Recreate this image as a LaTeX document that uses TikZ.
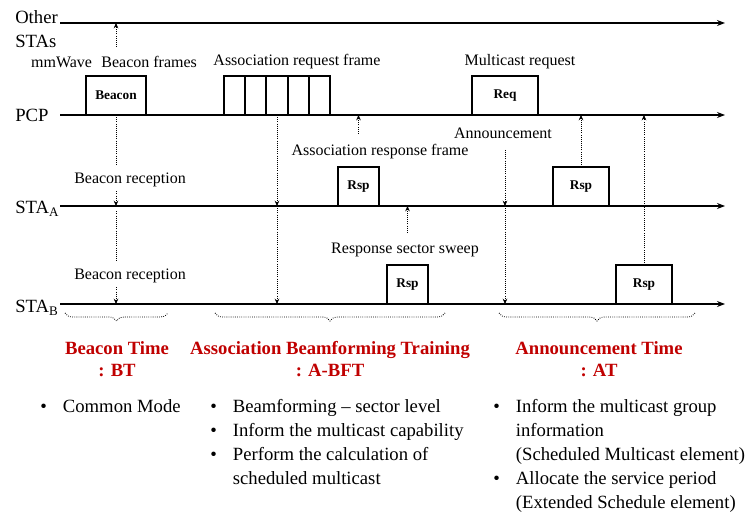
\documentclass[tikz,border=0pt]{standalone}
\usepackage{fontspec}
\setmainfont{Liberation Serif}
\usepackage{tikz}
\usetikzlibrary{arrows.meta, positioning, calc, decorations.pathreplacing}
\definecolor{phasered}{HTML}{C00000}
\newcommand{\bul}{\makebox[17pt][l]{\textbullet}}
\newcommand{\cont}{\hspace*{17pt}}

\begin{document}
\begin{tikzpicture}[x=0.75pt, y=-0.75pt, font=\fontsize{12}{14}\selectfont,
  axis/.style={-{Stealth[length=6pt, width=4.5pt]}, line width=0.9pt},
  frm/.style={draw, line width=1.4pt, anchor=south, minimum height=29pt, inner sep=0pt,
    outer sep=0pt, font=\fontsize{10}{12}\selectfont\bfseries},
  sig/.style={-{Stealth[length=4pt, width=3.5pt]}, densely dotted, line width=0.6pt},
  trail/.style={densely dotted, line width=0.6pt},
  lane/.style={anchor=west, align=left, inner sep=0pt, font=\fontsize{14}{18}\selectfont},
  lbl/.style={inner sep=0pt},
  phase/.style={align=center, inner sep=0pt, text=phasered, font=\fontsize{14}{16.5}\selectfont\bfseries},
  brc/.style={densely dotted, line width=0.6pt, decorate, decoration={brace, mirror, amplitude=6pt}},
  note/.style={anchor=north west, align=left, inner sep=0pt, font=\fontsize{14}{18}\selectfont}]
  \useasboundingbox (0,0) rectangle (751,513);

  \coordinate (oS) at (60,23);  \coordinate (oE) at (725,23);
  \coordinate (pS) at (60,115); \coordinate (pE) at (725,115);
  \coordinate (aS) at (60,206); \coordinate (aE) at (725,206);
  \coordinate (bS) at (60,304); \coordinate (bE) at (725,304);
  \draw[axis] (oS) -- (oE);
  \draw[axis] (pS) -- (pE);
  \draw[axis] (aS) -- (aE);
  \draw[axis] (bS) -- (bE);

  \node[lane] (lo) at (15,29) {Other\\STAs};
  \node[lane] (lp) at (15,115) {PCP};
  \node[lane] (la) at (15,209) {STA\textsubscript{A}};
  \node[lane] (lb) at (15,308) {STA\textsubscript{B}};

  \node[frm, minimum width=45pt] (bcn) at (116,115) {Beacon};
  \node[frm, minimum width=15.9pt] (ar1) at (234.6,115) {};
  \foreach \i [count=\j] in {2,...,5}
    \node[frm, minimum width=15.9pt, anchor=west, right=0pt of ar\j] (ar\i) {};
  \node[frm, minimum width=49.5pt] (req) at (505,115) {Req};
  \node[frm, minimum width=30.75pt] (rspa) at (358.5,206) {Rsp};
  \node[frm, minimum width=42pt] (rspc) at (581,206) {Rsp};
  \node[frm, minimum width=30.75pt] (rspb) at (407.5,304) {Rsp};
  \node[frm, minimum width=42pt] (rspd) at (644,304) {Rsp};

  \node[lbl] (lmmw) at (114,62) {mmWave\hspace{4pt} Beacon frames};
  \node[lbl] (lareq) at (297,62) {Association request frame};
  \node[lbl] (lmreq) at (520,62) {Multicast request};
  \node[lbl] (lbra) at (130,180) {Beacon reception};
  \node[lbl] (lbrb) at (130,276) {Beacon reception};
  \node[lbl] (larsp) at (380,152) {Association response frame};
  \node[lbl] (lrss) at (405,250) {Response sector sweep};
  \node[lbl] (lann) at (503,133) {Announcement};

  \coordinate (bup) at (116,47);
  \draw[sig] (bup) -- (bup |- oS);
  \draw[trail, shorten >=6pt] (bcn.south) -- (bcn.south |- lbra.north);
  \draw[sig, shorten <=3pt] (bcn.south |- lbra.south) -- (bcn.south |- aS);
  \draw[trail, shorten <=4pt, shorten >=6pt] (bcn.south |- aS) -- (bcn.south |- lbrb.north);
  \draw[sig, shorten <=3pt] (bcn.south |- lbrb.south) -- (bcn.south |- bS);

  \draw[sig] (ar3.south) -- (ar3.south |- aS);
  \draw[sig] (ar3.south |- aS) -- (ar3.south |- bS);

  \draw[sig] ([yshift=8pt]rspa.north |- larsp.north) -- (rspa.north |- pS);
  \draw[sig] ([yshift=7.5pt]rspb.north |- lrss.north) -- (rspb.north |- aS);

  \draw[sig, shorten <=8.5pt] (req.south |- lann.south) -- (req.south |- aS);
  \draw[sig] (req.south |- aS) -- (req.south |- bS);

  \draw[sig] (rspc.north) -- (rspc.north |- pS);
  \draw[sig] (rspd.north) -- (rspd.north |- pS);

  \draw[brc] (65,313) -- (168,313);
  \draw[brc] (215,313) -- (445,313);
  \draw[brc] (499,313) -- (695,313);

  \node[phase] (bt) at (117,359) {Beacon Time\\: BT};
  \node[phase] (abft) at (330,359) {Association Beamforming Training\\: A-BFT};
  \node[phase] (at) at (599,359) {Announcement Time\\: AT};

  \node[note] (nbt) at (40,399) {\bul Common Mode};
  \node[note] (nabft) at (210,399) {\bul Beamforming -- sector level\\
    \bul Inform the multicast capability\\
    \bul Perform the calculation of\\
    \cont scheduled multicast};
  \node[note] (nat) at (493,399) {\bul Inform the multicast group\\
    \cont information\\
    \cont (Scheduled Multicast element)\\
    \bul Allocate the service period\\
    \cont (Extended Schedule element)};
\end{tikzpicture}
\end{document}
